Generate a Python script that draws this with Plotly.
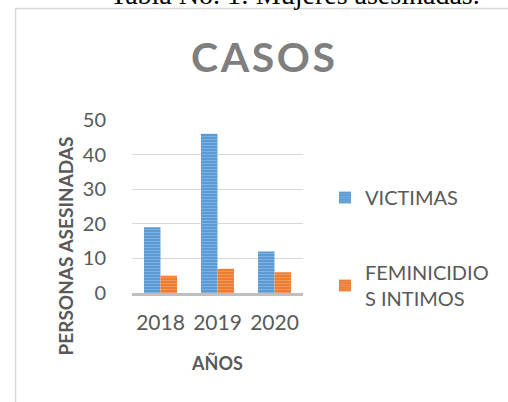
import plotly.graph_objects as go

years = ["2018", "2019", "2020"]
victimas = [19, 46, 12]
feminicidios = [5, 7, 6]
series_names = ["VICTIMAS", "FEMINICIDIO<br>S INTIMOS"]
y_ticks = [0, 10, 20, 30, 40, 50]

W, H = 508, 402
L, T = 132, 120
R, B = W - 303, H - 293
pw, ph = W - L - R, H - T - B

def px_x(p):
    return (p - L) / pw

def px_y(p):
    return (H - B - p) / ph

FONT = "Lato"
GRAY = "#595959"

fig = go.Figure()
fig.add_trace(go.Bar(
    x=years, y=victimas, name=series_names[0], legendgroup="a",
    marker=dict(color="#5B9BD5", line=dict(width=0),
                pattern=dict(shape="-", size=3, solidity=0.35,
                             fgcolor="#A5C8EA", bgcolor="#5B9BD5")),
))
fig.add_trace(go.Bar(
    x=years, y=feminicidios, name=series_names[1], legendgroup="b",
    marker=dict(color="#ED7D31", line=dict(width=0),
                pattern=dict(shape="-", size=3, solidity=0.35,
                             fgcolor="#F6B68A", bgcolor="#ED7D31")),
))

fig.update_layout(
    width=W, height=H,
    margin=dict(l=L, r=R, t=T, b=B, autoexpand=False),
    paper_bgcolor="white", plot_bgcolor="white",
    barmode="group", bargap=0.42, bargroupgap=0,
    font=dict(family=FONT, color=GRAY, size=19),
    title=dict(text="C\u200aA\u200aS\u200aO\u200aS", x=263 / W, xanchor="center",
               y=1 - 58 / H, yanchor="middle", xref="container", yref="container",
               font=dict(family=FONT, size=41, color="#7F7F7F", weight="bold")),
    legend=dict(x=px_x(325), y=px_y(178), xanchor="left", yanchor="top",
                font=dict(size=20, color=GRAY), tracegroupgap=46,
                traceorder="grouped", bgcolor="rgba(0,0,0,0)"),
    showlegend=True,
)
fig.update_xaxes(
    showline=True, linecolor="#BFBFBF", linewidth=3, showgrid=False,
    ticks="", tickfont=dict(size=21, color=GRAY), ticklabelstandoff=9,
    title=dict(text="AÑOS", font=dict(size=18, color=GRAY, weight="bold"), standoff=25),
)
fig.update_yaxes(
    range=[0, 50], tickvals=y_ticks, showgrid=True, gridcolor="#D9D9D9", gridwidth=1,
    zeroline=False, showline=False, ticks="", tickfont=dict(size=20, color=GRAY),
    ticklabelstandoff=25,
)

fig.add_annotation(
    text="PERSONAS ASESINADAS", textangle=-90, xref="paper", yref="paper",
    x=px_x(64.5), y=px_y(246), xanchor="center", yanchor="middle", showarrow=False,
    font=dict(family=FONT, size=19, color=GRAY, weight="bold"),
)
fig.add_annotation(
    text="Tabla No. 1: Mujeres asesinadas.", xref="paper", yref="paper",
    x=px_x(295), y=px_y(12), xanchor="center", yanchor="bottom", showarrow=False,
    font=dict(family="Liberation Serif", size=28, color="black"),
)
fig.add_shape(
    type="rect", xref="paper", yref="paper",
    x0=px_x(15.5), x1=px_x(560), y0=px_y(460), y1=px_y(8.5),
    line=dict(color="#D9D9D9", width=1.5), fillcolor="rgba(0,0,0,0)", layer="below",
)

fig.write_html("out.html", config={"displayModeBar": False},
               post_script="document.body.style.margin='0';")
